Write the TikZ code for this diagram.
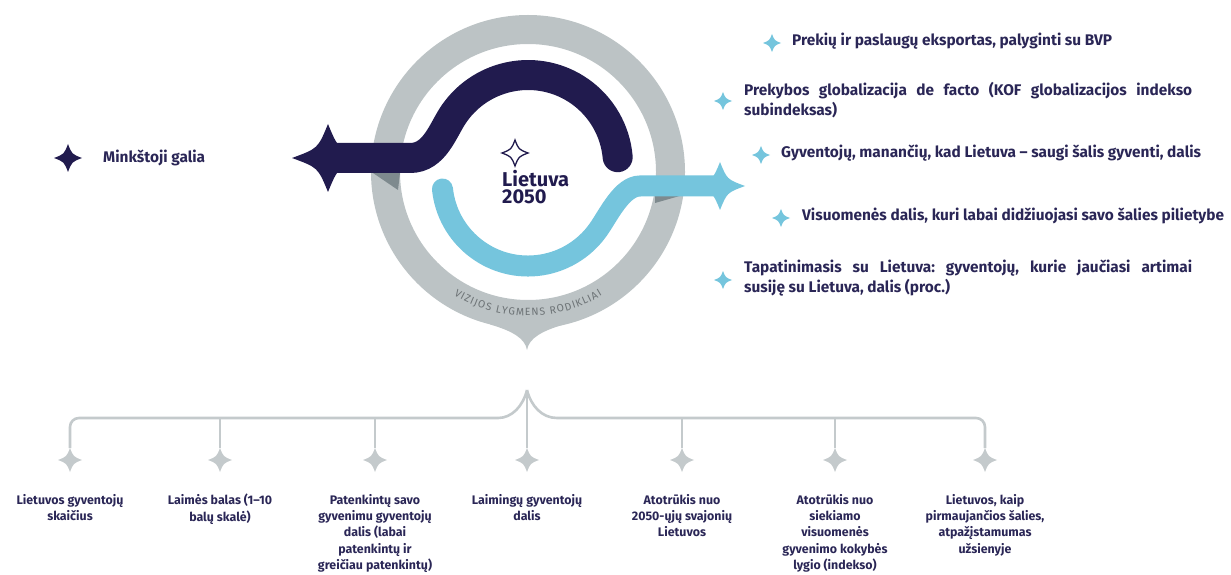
\documentclass[tikz,border=0pt]{standalone}
\usepackage{fontspec}
\setmainfont{Fira Sans}
\usetikzlibrary{decorations.text}
\definecolor{navy}{HTML}{211B4E}
\definecolor{lblue}{HTML}{75C5DD}
\definecolor{ringgray}{HTML}{BCC3C5}
\definecolor{wedge}{HTML}{7E8A8E}
\definecolor{ringtext}{HTML}{6D7376}
\definecolor{treegray}{HTML}{C4CACC}
\definecolor{textnavy}{HTML}{2A2656}
\frenchspacing
\tikzset{
  sparkle/.pic={\path[pic actions] (1,0) .. controls (0.28,0.28) .. (0,1) .. controls (-0.28,0.28) .. (-1,0) .. controls (-0.28,-0.28) .. (0,-1) .. controls (0.28,-0.28) .. (1,0) -- cycle;},
  treeline/.style={draw=treegray, line width=2.6pt},
  lbl/.style={font=\bfseries\fontsize{15.4}{20}\selectfont, text=textnavy, inner sep=0pt, anchor=mid west},
  blbl/.style={font=\bfseries\fontsize{12.4}{16.3}\selectfont, text=textnavy, inner sep=0pt, align=center, anchor=north},
  bigtxt/.style={font=\bfseries\fontsize{20}{17}\selectfont, text=navy, inner sep=0pt, align=left, anchor=north west}
}
\begin{document}
\begin{tikzpicture}[x=1pt,y=1pt]
\useasboundingbox (0,0) rectangle (1231,574);

% ring
\coordinate (C) at (528,402);
\draw[ringgray, line width=29pt] (C) circle[radius=142.5];
\fill[ringgray] (490,249.6) .. controls (512,243) and (525,236) .. (527,224)
   .. controls (529,236) and (542,243) .. (564,249.6) -- (564,258) -- (490,258) -- cycle;
\fill[wedge] (373,401) -- (400,401) -- (398,384) -- cycle;
\fill[wedge] (655,379) -- (683,379) -- (655,371) -- cycle;

% curved text
\path[decorate, decoration={text along path, text align={fit to path},
  text={|\color{ringtext}\fontsize{10.5}{11}\selectfont|VIZIJOS LYGMENS RODIKLIAI}}]
  (C) ++(239:144) arc[start angle=239, end angle=301, radius=144];

% navy band
\coordinate (nstar) at (328,416);
\draw[navy, line width=30pt, line cap=round] (nstar) -- (410,416)
   .. controls (435,416) and (442.8,444.2) .. (454.3,460.6)
   arc[start angle=145, end angle=5, radius=90];
\pic[fill=navy, xscale=36, yscale=34] at (nstar) {sparkle};

% light band
\coordinate (lstart) at (442.47,385.0);
\coordinate (lstar) at (720,388);
\draw[lblue, line width=21pt, line cap=round] (lstart)
   arc[start angle=186, end angle=325, radius=86]
   .. controls (608.8,359.4) and (622,388) .. (640,388) -- (lstar);
\pic[fill=lblue, xscale=25, yscale=24] at (lstar) {sparkle};

% centre
\pic[draw=navy, fill=white, line width=1.3pt, scale=13] at (515,421) {sparkle};
\node[bigtxt] (lt) at (502,404) {Lietuva\\2050};

% left item
\pic[fill=navy, scale=14] at (68,416) {sparkle};
\node[lbl] (soft) at (103,414) {Minkštoji galia};

% right items
\pic[fill=lblue, scale=9] at (772,531) {sparkle};
\node[lbl] (r1) at (792,531) {Prekių ir paslaugų eksportas, palyginti su BVP};
\pic[fill=lblue, scale=9] at (723,473) {sparkle};
\node[lbl] (r2a) at (744,481) {\makebox[448pt][s]{Prekybos globalizacija de facto (KOF globalizacijos indekso}};
\node[lbl] (r2b) at (744,461) {subindeksas)};
\pic[fill=lblue, scale=9] at (761,419) {sparkle};
\node[lbl] (r3) at (781,419) {Gyventojų, manančių, kad Lietuva – saugi šalis gyventi, dalis};
\pic[fill=lblue, scale=9] at (781,356) {sparkle};
\node[lbl] (r4) at (802,356) {Visuomenės dalis, kuri labai didžiuojasi savo šalies pilietybe};
\pic[fill=lblue, scale=9] at (723,294) {sparkle};
\node[lbl] (r5a) at (744,304) {\makebox[448pt][s]{Tapatinimasis su Lietuva: gyventojų, kurie jaučiasi artimai}};
\node[lbl] (r5b) at (744,284) {susiję su Lietuva, dalis (proc.)};

% bottom tree
\coordinate (peak) at (527,184);
\coordinate (hl) at (498,156);
\coordinate (hr) at (557,156);
\foreach \i/\x in {1/70,2/220,3/375,4/527,5/682,6/835,7/985}{
  \coordinate (b\i) at (\x,114);
  \coordinate (t\i) at (\x,126);
  \coordinate (h\i) at (\x,156);
}
\draw[treeline, rounded corners=9pt] (t1) |- (hl);
\draw[treeline] (hl) .. controls (512,156) and (523,168) .. (peak);
\draw[treeline, rounded corners=9pt] (t7) |- (hr);
\draw[treeline] (hr) .. controls (542,156) and (531,168) .. (peak);
\draw[treeline] (peak) -- (t4);
\foreach \i in {2,3,5,6}{ \draw[treeline] (h\i) -- (t\i); }
\foreach \i in {1,...,7}{ \pic[fill=treegray, scale=12] at (b\i) {sparkle}; }

\node[blbl] (l1) at (70,80) {Lietuvos gyventojų\\skaičius};
\node[blbl] (l2) at (220,80) {Laimės balas (1–10\\balų skalė)};
\node[blbl] (l3) at (375,80) {Patenkintų savo\\gyvenimu gyventojų\\dalis (labai\\patenkintų ir\\greičiau patenkintų)};
\node[blbl] (l4) at (527,80) {Laimingų gyventojų\\dalis};
\node[blbl] (l5) at (682,80) {Atotrūkis nuo\\2050-ųjų svajonių\\Lietuvos};
\node[blbl] (l6) at (835,80) {Atotrūkis nuo\\siekiamo\\visuomenės\\gyvenimo kokybės\\lygio (indekso)};
\node[blbl] (l7) at (985,80) {Lietuvos, kaip\\pirmaujančios šalies,\\atpažįstamumas\\užsienyje};
\end{tikzpicture}
\end{document}
